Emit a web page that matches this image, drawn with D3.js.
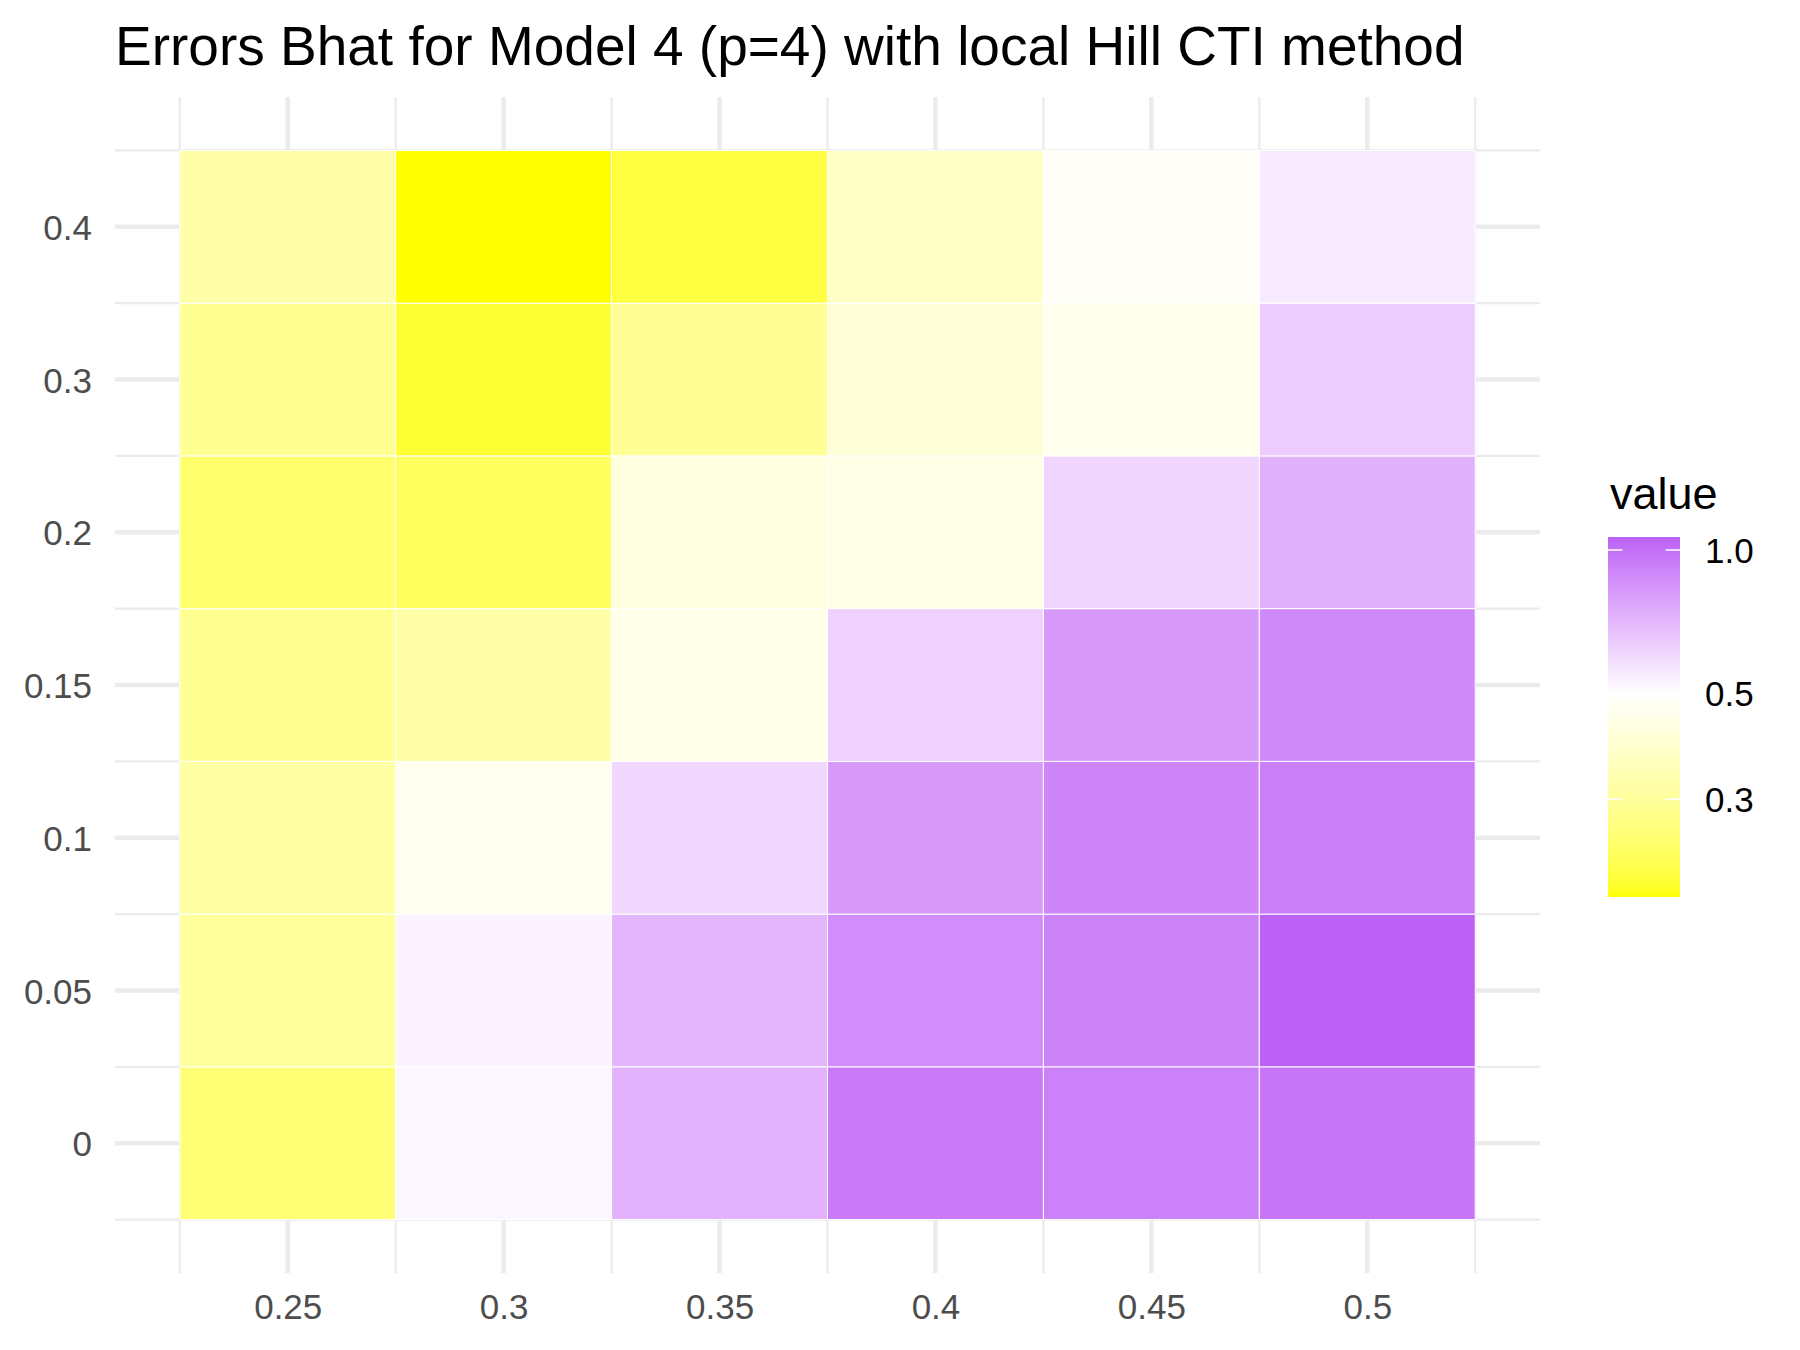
<!DOCTYPE html>
<html>
<head>
<meta charset="utf-8">
<script src="https://cdn.jsdelivr.net/npm/d3@7"></script>
<style>
  body { margin: 0; background: #fff; }
  svg text { font-family: 'Liberation Sans', Arial, sans-serif; }
  .tick text { fill: #4D4D4D; font-size: 35px; }
  .grid-major { stroke: #EBEBEB; stroke-width: 4.4px; }
  .grid-minor { stroke: #EBEBEB; stroke-width: 2.2px; }
</style>
</head>
<body>
<div id="chart"></div>
<script>
var chartTitle = 'Errors Bhat for Model 4 (p=4) with local Hill CTI method'
var legendTitle = 'value'

// columns (x) and rows (y, shown as evenly spaced levels)
var xValues = [0.25, 0.3, 0.35, 0.4, 0.45, 0.5]
var xTickLabels = ['0.25', '0.3', '0.35', '0.4', '0.45', '0.5']
var yLabels = ['0', '0.05', '0.1', '0.15', '0.2', '0.3', '0.4']

// error values per row, read left to right (x = 0.25 ... 0.5)
var errY0    = [0.254, 0.522, 0.723, 0.950, 0.920, 0.970]
var errY005  = [0.303, 0.530, 0.716, 0.871, 0.912, 1.065]
var errY01   = [0.315, 0.461, 0.605, 0.816, 0.903, 0.930]
var errY015  = [0.288, 0.321, 0.449, 0.626, 0.816, 0.885]
var errY02   = [0.242, 0.230, 0.427, 0.444, 0.611, 0.730]
var errY03   = [0.288, 0.202, 0.294, 0.407, 0.457, 0.642]
var errY04   = [0.324, 0.187, 0.208, 0.372, 0.483, 0.552]
var rows = [errY0, errY005, errY01, errY015, errY02, errY03, errY04]

var legendBreaks = [0.3, 0.5, 1.0]
var legendLabels = ['0.3', '0.5', '1.0']
var midValue = 0.5

var width = 1800, height = 1350;
var panel = {left: 115, right: 1540, top: 97, bottom: 1273};
var svg, xScale, yScale, fillScale, cells, vmin, vmax;

function GenerateGlobals() {
  cells = [];
  rows.forEach(function(r, i) {
    r.forEach(function(v, j) {
      cells.push({x: xValues[j], yi: i + 1, value: v});
    });
  });
  vmin = d3.min(cells, d => d.value);
  vmax = d3.max(cells, d => d.value);

  // continuous x with 5% expansion, tiles 0.05 wide
  xScale = d3.scaleLinear().domain([0.21, 0.54]).range([panel.left, panel.right]);
  // y as index 1..7, tiles 1 high, 5% expansion
  yScale = d3.scaleLinear().domain([0.15, 7.85]).range([panel.bottom, panel.top]);

  // diverging gradient on log scale, white at midValue
  var lmid = Math.log(midValue);
  var span = Math.max(lmid - Math.log(vmin), Math.log(vmax) - lmid);
  var lowI = d3.interpolateLab('#FFFFFF', '#FFFF00');
  var highI = d3.interpolateLab('#FFFFFF', '#A020F0'); // R "purple"
  fillScale = function(v) {
    var t = (Math.log(v) - lmid) / span;
    return t < 0 ? lowI(Math.min(1, -t)) : highI(Math.min(1, t));
  };

  svg = d3.select('#chart')
    .append('svg')
    .attr('width', width)
    .attr('height', height);
}

function DrawStatics() {
  var grid = svg.append('g').attr('class', 'grid');

  // minor lines at tile edges
  d3.range(0.225, 0.53, 0.05).forEach(function(v) {
    grid.append('line').attr('class', 'grid-minor')
      .attr('x1', xScale(v)).attr('x2', xScale(v))
      .attr('y1', panel.top).attr('y2', panel.bottom);
  });
  d3.range(0.5, 8, 1).forEach(function(v) {
    grid.append('line').attr('class', 'grid-minor')
      .attr('x1', panel.left).attr('x2', panel.right)
      .attr('y1', yScale(v)).attr('y2', yScale(v));
  });
  // major lines
  xValues.forEach(function(v) {
    grid.append('line').attr('class', 'grid-major')
      .attr('x1', xScale(v)).attr('x2', xScale(v))
      .attr('y1', panel.top).attr('y2', panel.bottom);
  });
  yLabels.forEach(function(l, i) {
    grid.append('line').attr('class', 'grid-major')
      .attr('x1', panel.left).attr('x2', panel.right)
      .attr('y1', yScale(i + 1)).attr('y2', yScale(i + 1));
  });

  // axes (no domain lines, no ticks)
  var xAxis = d3.axisBottom(xScale).tickValues(xValues)
    .tickFormat((d, i) => xTickLabels[i]).tickSize(0).tickPadding(0);
  svg.append('g')
    .attr('class', 'x axis')
    .attr('transform', 'translate(0,' + 1319 + ')')
    .call(xAxis)
    .call(g => g.select('.domain').remove())
    .selectAll('text').attr('dy', 0).attr('y', 0);

  var yAxis = d3.axisLeft(yScale).tickValues(d3.range(1, 8))
    .tickFormat(d => yLabels[d - 1]).tickSize(0).tickPadding(0);
  svg.append('g')
    .attr('class', 'y axis')
    .attr('transform', 'translate(' + 92 + ',0)')
    .call(yAxis)
    .call(g => g.select('.domain').remove())
    .selectAll('text').attr('x', 0).attr('dy', '0.36em');

  svg.append('text')
    .attr('x', panel.left)
    .attr('y', 65)
    .style('font-size', '55px')
    .attr('fill', '#000')
    .text(chartTitle);
}

function DrawData() {
  var w = xScale(0.05) - xScale(0);
  var h = yScale(0) - yScale(1);
  svg.append('g').attr('id', 'tiles')
    .selectAll('rect')
    .data(cells)
    .enter()
    .append('rect')
    .attr('x', d => xScale(d.x) - w / 2)
    .attr('y', d => yScale(d.yi) - h / 2)
    .attr('width', w)
    .attr('height', h)
    .attr('fill', d => fillScale(d.value))
    .attr('stroke', 'white')
    .attr('stroke-width', 1);
}

function DrawLegend() {
  var bar = {x: 1608, y: 537, w: 72, h: 360};
  var lScale = d3.scaleLog().domain([vmin, vmax]).range([bar.y + bar.h, bar.y]);

  var grad = svg.append('defs').append('linearGradient')
    .attr('id', 'legendGrad')
    .attr('x1', 0).attr('y1', 1).attr('x2', 0).attr('y2', 0);
  d3.range(0, 61).forEach(function(i) {
    var v = Math.exp(Math.log(vmin) + (Math.log(vmax) - Math.log(vmin)) * i / 60);
    grad.append('stop')
      .attr('offset', (i / 60 * 100) + '%')
      .attr('stop-color', fillScale(v));
  });

  var legendG = svg.append('g').attr('class', 'legendG');
  legendG.append('text')
    .attr('x', 1610)
    .attr('y', 509)
    .style('font-size', '45px')
    .attr('fill', '#000')
    .text(legendTitle);

  legendG.append('rect')
    .attr('x', bar.x).attr('y', bar.y)
    .attr('width', bar.w).attr('height', bar.h)
    .attr('fill', 'url(#legendGrad)');

  legendBreaks.forEach(function(b, i) {
    var y = lScale(b);
    legendG.append('line')
      .attr('x1', bar.x).attr('x2', bar.x + bar.w * 0.2)
      .attr('y1', y).attr('y2', y)
      .attr('stroke', 'white').attr('stroke-width', 1.5);
    legendG.append('line')
      .attr('x1', bar.x + bar.w * 0.8).attr('x2', bar.x + bar.w)
      .attr('y1', y).attr('y2', y)
      .attr('stroke', 'white').attr('stroke-width', 1.5);
    legendG.append('text')
      .attr('x', 1705)
      .attr('y', y)
      .attr('dy', '0.36em')
      .style('font-size', '35px')
      .attr('fill', '#000')
      .text(legendLabels[i]);
  });
}

function DrawChart() {
  GenerateGlobals();
  DrawStatics();
  DrawData();
  DrawLegend();
}

DrawChart();
</script>
</body>
</html>
